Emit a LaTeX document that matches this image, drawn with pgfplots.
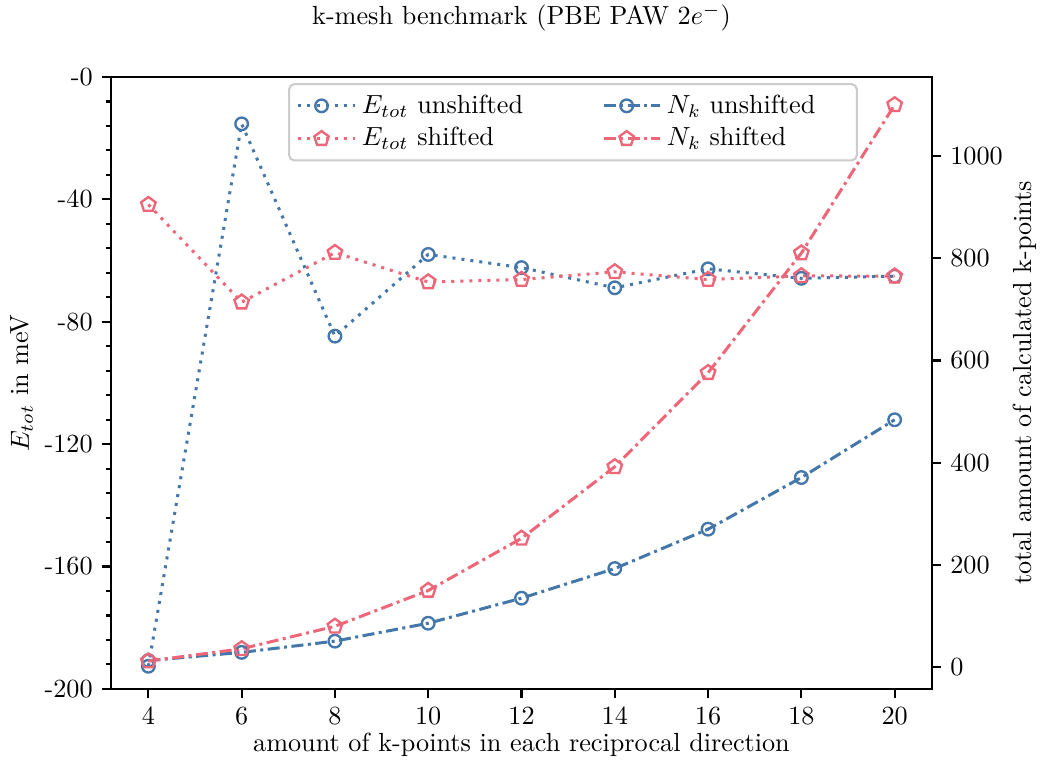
\documentclass[border=0pt]{standalone}
\usepackage{pgfplots}
\pgfplotsset{compat=1.18}
\usetikzlibrary{plotmarks}
\usepackage{pgfplotstable}
\definecolor{tolblue}{HTML}{4477AA}
\definecolor{tolred}{HTML}{EE6677}

\pgfplotstableread{
n Eu Es Nu Ns
4 -192.6 -41.7 13 12
6 -15.3 -73.6 29 36
8 -84.7 -57.4 51 80
10 -58.0 -67.0 86 150
12 -62.3 -66.2 135 252
14 -68.9 -63.7 193 392
16 -62.7 -66.2 270 576
18 -65.8 -65.0 371 810
20 -65.1 -65.1 484 1100
}\data

\pgfplotsset{
  base/.style={
    scale only axis, width=313.4pt, height=233.6pt,
    xmin=3.2, xmax=20.8,
    tick align=outside,
    major tick length=3.5pt, minor tick length=2pt,
    axis line style={line width=0.8pt},
    every tick/.style={line width=0.8pt, black},
  },
  dotline/.style={line width=1.15pt, dash pattern=on 1.15pt off 2.3pt},
  dashdotline/.style={line width=1.15pt, dash pattern=on 4.6pt off 1.7pt on 1.15pt off 1.7pt},
  eu/.style={tolblue, dotline, mark=o, mark size=2.4pt, mark options={solid, line width=0.9pt}},
  es/.style={tolred, dotline, mark=pentagon, mark size=2.9pt, mark options={solid, line width=0.9pt}},
  nu/.style={tolblue, dashdotline, mark=o, mark size=2.4pt, mark options={solid, line width=0.9pt}},
  ns/.style={tolred, dashdotline, mark=pentagon, mark size=2.9pt, mark options={solid, line width=0.9pt}},
}

\begin{document}
\begin{tikzpicture}
\begin{axis}[base, name=main,
  ymin=-200, ymax=0,
  ytick={-200,-160,-120,-80,-40,0},
  yticklabels={-200,-160,-120,-80,-40,-0},
  minor y tick num=4,
  xtick={4,6,...,20},
  xtick pos=left, ytick pos=left,
  xlabel={amount of k-points in each reciprocal direction},
  ylabel={$E_{tot}$ in meV},
  xlabel style={at={(axis description cs:0.5,-0.0916)}, anchor=center},
  ylabel style={at={(axis description cs:-0.1085,0.5)}, anchor=center},
]
\addplot[eu] table[x=n, y=Eu] {\data};
\addplot[es] table[x=n, y=Es] {\data};
\end{axis}
\begin{axis}[base,
  axis y line*=right, axis x line=none,
  ymin=-42.4, ymax=1154.4,
  ytick={0,200,...,1000},
  /pgf/number format/set thousands separator={},
  ylabel={total amount of calculated k-points},
  ylabel style={at={(axis description cs:1.1133,0.5)}, anchor=center},
  legend image code/.code={\draw[mark repeat=2,mark phase=2] plot coordinates {(0cm,0cm) (0.31cm,0cm) (0.62cm,0cm)};
    \path (0cm,0cm) -- (0.62cm+4pt,0cm);},
  legend columns=2,
  legend cell align=left,
  legend style={at={(axis description cs:0.5627,0.99)}, anchor=north,
    draw=black!20, line width=0.8pt, rounded corners=2pt,
    fill=white, fill opacity=0.8, draw opacity=1, text opacity=1,
    row sep=0pt, column sep=0pt},
]
\addlegendimage{eu}
\addlegendentry{\makebox[89.7pt][l]{$E_{tot}$ unshifted}}
\addplot[nu] table[x=n, y=Nu] {\data};
\addlegendentry{\makebox[67.5pt][l]{$N_k$ unshifted}}
\addlegendimage{es}
\addlegendentry{\makebox[89.7pt][l]{$E_{tot}$ shifted}}
\addplot[ns] table[x=n, y=Ns] {\data};
\addlegendentry{\makebox[67.5pt][l]{$N_k$ shifted}}
\end{axis}
\node[anchor=center] at ([yshift=22.7pt]main.north) {k-mesh benchmark (PBE PAW 2$e^{-}$)};
\pgfresetboundingbox
\path ([xshift=-42.4pt,yshift=-29.8pt]main.south west) rectangle ([xshift=42.4pt,yshift=29.4pt]main.north east);
\end{tikzpicture}
\end{document}
